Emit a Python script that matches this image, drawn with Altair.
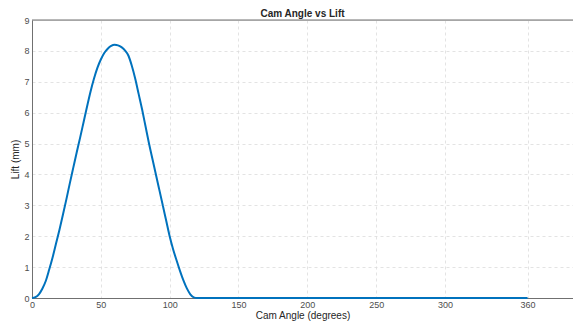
import altair as alt
import pandas as pd

# Cam angle (degrees) and lift (mm)
angle = [0, 2.5, 5, 7.5, 10, 12.5, 15, 17.5, 20, 22.5, 25, 27.5, 30, 32.5, 35, 37.5, 40,
         42.5, 45, 47.5, 50, 52.5, 55, 57.5, 60, 62.5, 65, 67.5, 70, 72.5, 75, 77.5, 80,
         82.5, 85, 87.5, 90, 92.5, 95, 97.5, 100, 102.5, 105, 107.5, 110, 112.5, 115,
         117.5, 120, 150, 200, 250, 300, 360]
lift = [0, 0.03, 0.12, 0.3, 0.55, 0.92, 1.32, 1.77, 2.22, 2.7, 3.2, 3.72, 4.22, 4.72, 5.2, 5.7, 6.2,
        6.68, 7.1, 7.45, 7.72, 7.93, 8.07, 8.16, 8.2, 8.18, 8.12, 8.02, 7.85, 7.52, 7.1, 6.6, 6.1,
        5.55, 5.0, 4.5, 4.0, 3.5, 3.0, 2.5, 2.0, 1.58, 1.22, 0.88, 0.57, 0.31, 0.12,
        0.02, 0, 0, 0, 0, 0, 0]

x_ticks = [0, 50, 100, 150, 200, 250, 300, 360]
y_ticks = [0, 1, 2, 3, 4, 5, 6, 7, 8, 9]
y_top = 9

df = pd.DataFrame({"angle": angle, "lift": lift})

font = "Liberation Sans"
axis_common = dict(grid=True, gridColor="#dcdcdc", gridDash=[3, 3], gridWidth=0.8,
                   labelFontSize=9, labelColor="#4d4d4d", titleFontSize=10,
                   titleFontWeight="normal", titleColor="#262626",
                   domainColor="#707070", domainWidth=1, ticks=False, labelFlush=False,
                   labelOverlap=False)

x_scale = alt.Scale(domain=[0, 393], nice=False, zero=False)
y_scale = alt.Scale(domain=[0, 9], nice=False)

line = alt.Chart(df).mark_line(color="#0072BD", strokeWidth=2, interpolate="monotone").encode(
    x=alt.X("angle:Q", title="Cam Angle (degrees)", scale=x_scale,
            axis=alt.Axis(values=x_ticks, labelPadding=2, titlePadding=1, **axis_common)),
    y=alt.Y("lift:Q", title="Lift (mm)", scale=y_scale,
            axis=alt.Axis(values=y_ticks, labelPadding=3, titlePadding=3, **axis_common)),
)

top = alt.Chart(pd.DataFrame({"t": [y_top]})).mark_rule(color="#707070", strokeWidth=1).encode(
    y=alt.Y("t:Q", scale=y_scale, axis=None)
)

chart = alt.layer(line, top).resolve_axis(y="independent").properties(
    width=541, height=278,
    title=alt.TitleParams("Cam Angle vs Lift", fontSize=10, fontWeight="bold", color="#262626",
                          offset=-3, anchor="middle"),
    autosize=alt.AutoSizeParams(type="none"),
    padding={"left": 24, "top": 12, "right": 0, "bottom": 24},
).configure_view(strokeWidth=0).configure(font=font)

chart.save("out.html", embed_options={"renderer": "svg", "actions": False})
